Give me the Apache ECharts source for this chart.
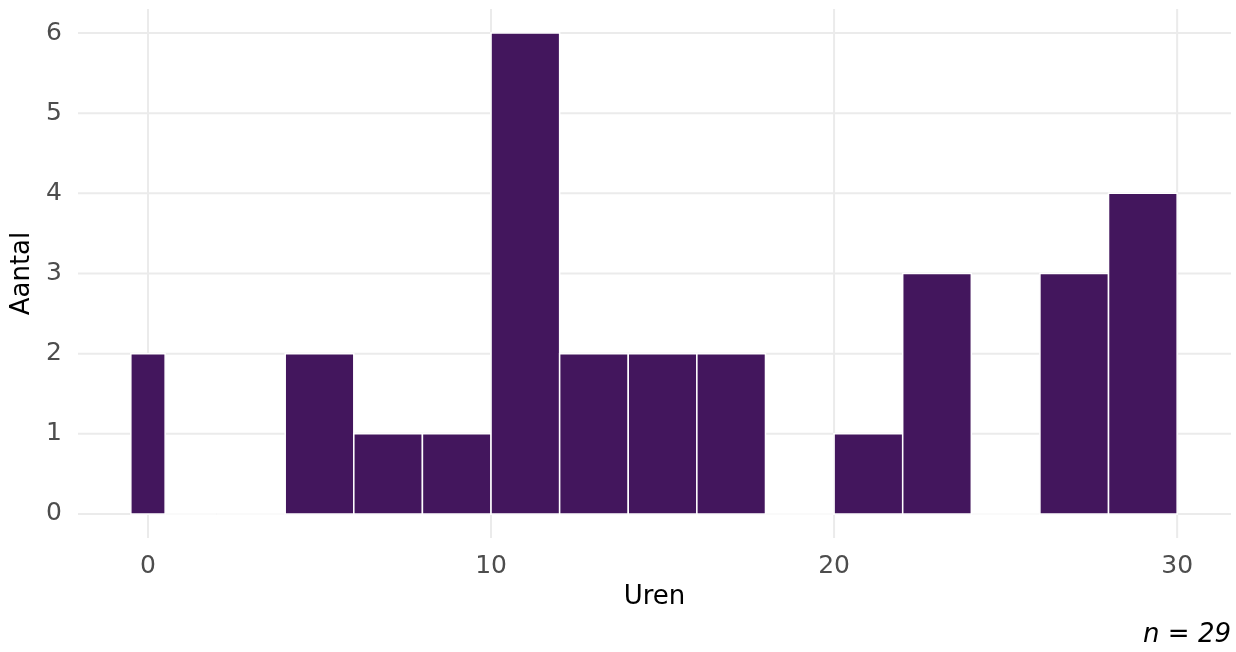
<!DOCTYPE html>
<html>
<head>
<meta charset="utf-8">
<script src="https://cdn.jsdelivr.net/npm/echarts@6/dist/echarts.min.js"></script>
<style>html,body{margin:0;padding:0;background:#fff}#c{width:1236px;height:652px}</style>
</head>
<body>
<div id="c"></div>
<script>
// Histogram bins (hours) and counts
const binStart = [-0.5, 0.5, 2, 4, 6, 8, 10, 12, 14, 16, 18, 20, 22, 24, 26, 28];
const binEnd   = [0.5, 2, 4, 6, 8, 10, 12, 14, 16, 18, 20, 22, 24, 26, 28, 30];
const counts   = [2, 0, 0, 2, 1, 1, 6, 2, 2, 2, 0, 1, 3, 0, 3, 4];
const xTicks = [0, 10, 20, 30];
const yTicks = [0, 1, 2, 3, 4, 5, 6];
const xTitle = 'Uren';
const yTitle = 'Aantal';
const caption = 'n = 29';

const FONT = 'DejaVu Sans';
const X_MIN = -2.04, X_MAX = 31.57, Y_MIN = -0.3, Y_MAX = 6.3;

const gridData = xTicks.map(v => [0, v]).concat(yTicks.map(v => [1, v]));
const barData = binStart.map((s, i) => [s, binEnd[i], counts[i]]);

const chart = echarts.init(document.getElementById('c'), null, {renderer: 'canvas'});
chart.setOption({
  animation: false,
  backgroundColor: '#ffffff',
  grid: {left: 78, right: 5, top: 9, bottom: 114, containLabel: false, outerBoundsMode: 'none'},
  xAxis: {
    type: 'value', min: X_MIN, max: X_MAX,
    axisLine: {show: false}, axisTick: {show: false}, splitLine: {show: false},
    axisLabel: {customValues: xTicks, color: '#4D4D4D', fontFamily: FONT, fontSize: 25, margin: 16},
    name: xTitle, nameLocation: 'middle', nameGap: 46,
    nameTextStyle: {color: '#000', fontFamily: FONT, fontSize: 26}
  },
  yAxis: {
    type: 'value', min: Y_MIN, max: Y_MAX,
    axisLine: {show: false}, axisTick: {show: false}, splitLine: {show: false},
    axisLabel: {customValues: yTicks, color: '#4D4D4D', fontFamily: FONT, fontSize: 25, margin: 16},
    name: yTitle, nameLocation: 'middle', nameGap: 39, nameRotate: 90,
    nameTextStyle: {color: '#000', fontFamily: FONT, fontSize: 26}
  },
  graphic: [{
    type: 'text', right: 5, bottom: 4,
    style: {text: caption, fill: '#000', font: 'italic 26px "DejaVu Sans"', textAlign: 'right'}
  }],
  series: [
    {
      type: 'custom', z: 1, silent: true,
      data: gridData,
      renderItem: function (params, api) {
        const cs = params.coordSys;
        const kind = api.value(0);
        const v = api.value(1);
        if (kind === 0) {
          const p = api.coord([v, 0]);
          return {type: 'line', shape: {x1: p[0], y1: cs.y, x2: p[0], y2: cs.y + cs.height},
            style: {stroke: '#EBEBEB', lineWidth: 2}};
        }
        const p = api.coord([0, v]);
        return {type: 'line', shape: {x1: cs.x, y1: p[1], x2: cs.x + cs.width, y2: p[1]},
          style: {stroke: '#EBEBEB', lineWidth: 2}};
      }
    },
    {
      type: 'custom', z: 2, silent: true,
      data: barData,
      renderItem: function (params, api) {
        const a = api.coord([api.value(0), api.value(2)]);
        const b = api.coord([api.value(1), 0]);
        return {type: 'rect', shape: {x: a[0], y: a[1], width: b[0] - a[0], height: b[1] - a[1]},
          style: {fill: '#43165D', stroke: '#ffffff', lineWidth: 1.5}};
      }
    }
  ]
});
</script>
</body>
</html>
